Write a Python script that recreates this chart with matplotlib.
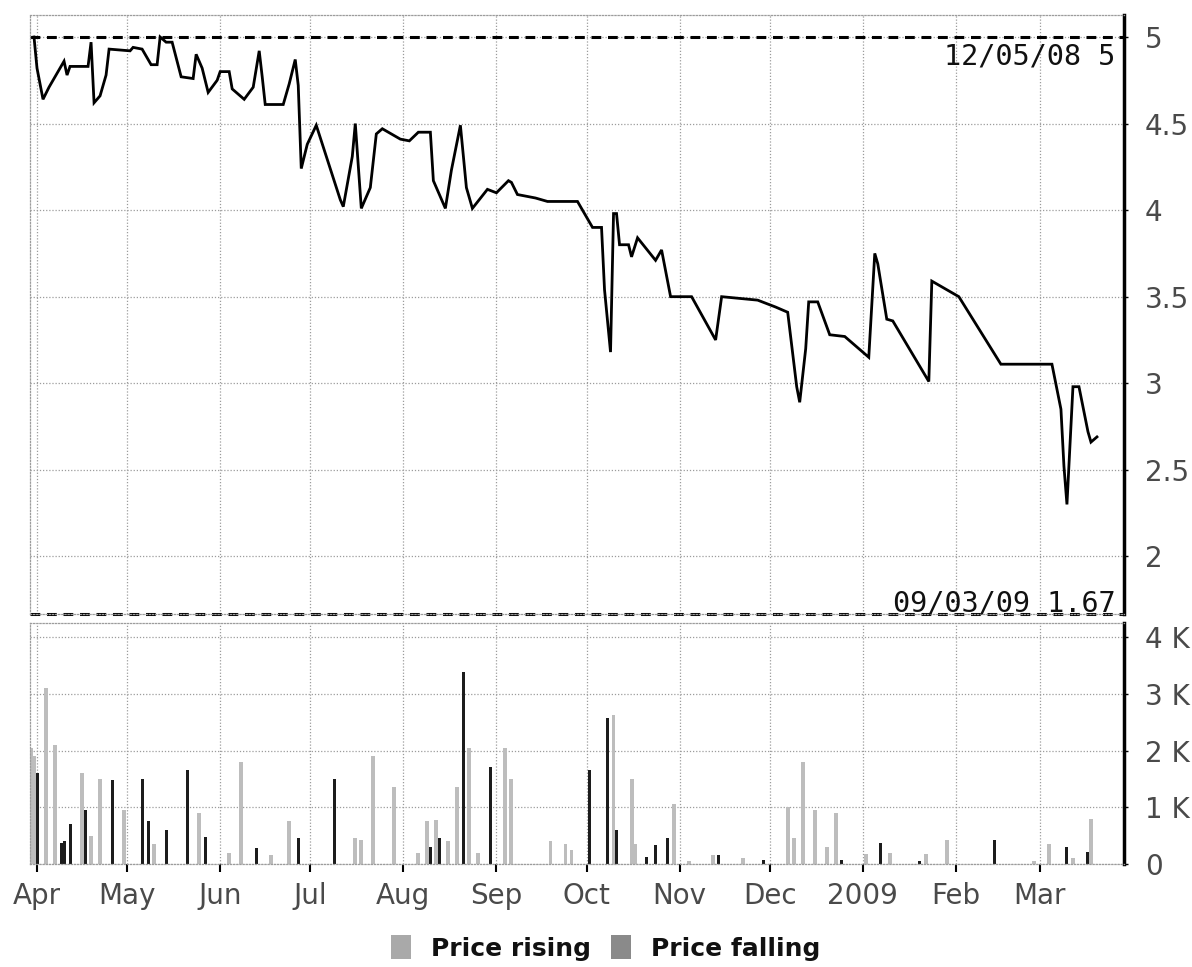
import matplotlib
matplotlib.use("Agg")
import matplotlib.pyplot as plt
from matplotlib.patches import Patch
from matplotlib.ticker import FuncFormatter
import pandas as pd

# closing price
price_dates = ["2008-03-31", "2008-04-01", "2008-04-03", "2008-04-05", "2008-04-10",
               "2008-04-11", "2008-04-12", "2008-04-18", "2008-04-19", "2008-04-20",
               "2008-04-22", "2008-04-24", "2008-04-25", "2008-05-02", "2008-05-03",
               "2008-05-06", "2008-05-09", "2008-05-11", "2008-05-12", "2008-05-14",
               "2008-05-16", "2008-05-19", "2008-05-23", "2008-05-24", "2008-05-26",
               "2008-05-28", "2008-05-31", "2008-06-01", "2008-06-04", "2008-06-05",
               "2008-06-09", "2008-06-12", "2008-06-14", "2008-06-15", "2008-06-16",
               "2008-06-22", "2008-06-24", "2008-06-26", "2008-06-27", "2008-06-28",
               "2008-06-30", "2008-07-03", "2008-07-11", "2008-07-12", "2008-07-15",
               "2008-07-16", "2008-07-18", "2008-07-21", "2008-07-23", "2008-07-25",
               "2008-07-31", "2008-08-03", "2008-08-06", "2008-08-10", "2008-08-11",
               "2008-08-15", "2008-08-17", "2008-08-20", "2008-08-22", "2008-08-24",
               "2008-08-29", "2008-09-01", "2008-09-05", "2008-09-06", "2008-09-08",
               "2008-09-14", "2008-09-18", "2008-09-28", "2008-10-03", "2008-10-06",
               "2008-10-07", "2008-10-09", "2008-10-10", "2008-10-11", "2008-10-12",
               "2008-10-15", "2008-10-16", "2008-10-18", "2008-10-24", "2008-10-26",
               "2008-10-29", "2008-11-05", "2008-11-13", "2008-11-15", "2008-11-27",
               "2008-12-03", "2008-12-07", "2008-12-10", "2008-12-11", "2008-12-13",
               "2008-12-14", "2008-12-17", "2008-12-21", "2008-12-26", "2009-01-03",
               "2009-01-05", "2009-01-06", "2009-01-09", "2009-01-11", "2009-01-23",
               "2009-01-24", "2009-02-02", "2009-02-16", "2009-03-05", "2009-03-08",
               "2009-03-09", "2009-03-10", "2009-03-12", "2009-03-14", "2009-03-17",
               "2009-03-18", "2009-03-20"]
price_values = [5.00, 4.82, 4.64, 4.71, 4.86,
                4.78, 4.83, 4.83, 4.97, 4.62,
                4.66, 4.78, 4.93, 4.92, 4.94,
                4.93, 4.84, 4.84, 5.00, 4.97,
                4.97, 4.77, 4.76, 4.90, 4.82,
                4.68, 4.75, 4.80, 4.80, 4.70,
                4.64, 4.71, 4.92, 4.77, 4.61,
                4.61, 4.73, 4.87, 4.72, 4.24,
                4.38, 4.49, 4.06, 4.02, 4.31,
                4.50, 4.01, 4.13, 4.44, 4.47,
                4.41, 4.40, 4.45, 4.45, 4.17,
                4.01, 4.23, 4.49, 4.13, 4.01,
                4.12, 4.10, 4.17, 4.16, 4.09,
                4.07, 4.05, 4.05, 3.90, 3.90,
                3.54, 3.18, 3.98, 3.98, 3.80,
                3.80, 3.73, 3.84, 3.71, 3.77,
                3.50, 3.50, 3.25, 3.50, 3.48,
                3.44, 3.41, 2.98, 2.89, 3.20,
                3.47, 3.47, 3.28, 3.27, 3.15,
                3.75, 3.69, 3.37, 3.36, 3.01,
                3.59, 3.50, 3.11, 3.11, 2.85,
                2.52, 2.30, 2.98, 2.98, 2.72,
                2.66, 2.69]

# volume on days the price rose / fell
rise_dates = ["2008-03-30", "2008-03-31", "2008-04-04", "2008-04-07", "2008-04-16",
              "2008-04-19", "2008-04-22", "2008-04-30", "2008-05-10", "2008-05-25",
              "2008-06-04", "2008-06-08", "2008-06-18", "2008-06-24", "2008-07-16",
              "2008-07-18", "2008-07-22", "2008-07-29", "2008-08-06", "2008-08-09",
              "2008-08-12", "2008-08-16", "2008-08-19", "2008-08-23", "2008-08-26",
              "2008-09-04", "2008-09-06", "2008-09-19", "2008-09-24", "2008-09-26",
              "2008-10-10", "2008-10-16", "2008-10-17", "2008-10-30", "2008-11-04",
              "2008-11-12", "2008-11-22", "2008-12-07", "2008-12-09", "2008-12-12",
              "2008-12-16", "2008-12-20", "2008-12-23", "2009-01-02", "2009-01-10",
              "2009-01-22", "2009-01-29", "2009-02-27", "2009-03-04", "2009-03-12",
              "2009-03-18"]
rise_volume = [2050, 1900, 3100, 2100, 1600,
               500, 1500, 950, 350, 900,
               200, 1800, 150, 750, 450,
               420, 1900, 1350, 200, 750,
               780, 400, 1350, 2040, 200,
               2040, 1500, 400, 350, 250,
               2620, 1500, 350, 1050, 50,
               150, 100, 1000, 450, 1800,
               950, 300, 900, 180, 200,
               170, 430, 50, 350, 100,
               800]

fall_dates = ["2008-04-01", "2008-04-09", "2008-04-10", "2008-04-12", "2008-04-17",
              "2008-04-26", "2008-05-06", "2008-05-08", "2008-05-14", "2008-05-21",
              "2008-05-27", "2008-06-13", "2008-06-27", "2008-07-09", "2008-08-10",
              "2008-08-13", "2008-08-21", "2008-08-30", "2008-10-02", "2008-10-08",
              "2008-10-11", "2008-10-21", "2008-10-24", "2008-10-28", "2008-11-14",
              "2008-11-29", "2008-12-25", "2009-01-07", "2009-01-20", "2009-02-14",
              "2009-03-10", "2009-03-17"]
fall_volume = [1600, 370, 400, 700, 950,
               1480, 1500, 750, 600, 1650,
               480, 280, 450, 1500, 300,
               450, 3380, 1710, 1660, 2570,
               600, 120, 330, 450, 150,
               70, 70, 370, 50, 430,
               300, 220]

month_ticks = ["2008-04-01", "2008-05-01", "2008-06-01", "2008-07-01", "2008-08-01",
               "2008-09-01", "2008-10-01", "2008-11-01", "2008-12-01", "2009-01-01",
               "2009-02-01", "2009-03-01"]
month_labels = ["Apr", "May", "Jun", "Jul", "Aug", "Sep", "Oct", "Nov", "Dec",
                "2009", "Feb", "Mar"]

price_ticks = [2, 2.5, 3, 3.5, 4, 4.5, 5]
volume_ticks = [0, 1000, 2000, 3000, 4000]

high_value = 5
high_text = "12/05/08 5"
low_value = 1.67
low_text = "09/03/09 1.67"

GRID = "#9c9c9c"
RISE_BAR = "#bdbdbd"
FALL_BAR = "#1c1c1c"
RISE_SWATCH = "#a9a9a9"
FALL_SWATCH = "#8a8a8a"
TICK_TEXT = "#4a4a4a"

x_start = pd.Timestamp("2008-03-29 12:00")
x_end = pd.Timestamp("2009-03-29 00:00")

fig = plt.figure(figsize=(11.92, 9.67), dpi=100)
W, H = 1192, 967
left = 29.5 / W
width = (1124 - 29.5) / W
ax1 = fig.add_axes([left, 1 - 613.5 / H, width, (613.5 - 15) / H])
ax2 = fig.add_axes([left, 1 - 864 / H, width, (864 - 623) / H])

ticks = pd.to_datetime(month_ticks)

for ax in (ax1, ax2):
    ax.set_xlim(x_start, x_end)
    ax.set_xticks(ticks)
    for side in ("top", "left", "bottom"):
        ax.spines[side].set_color(GRID)
        ax.spines[side].set_linestyle((0, (1, 1.5)))
        ax.spines[side].set_linewidth(0.9)
    ax.spines["right"].set_color("black")
    ax.spines["right"].set_linewidth(2.5)
    ax.yaxis.tick_right()
    ax.tick_params(axis="y", direction="out", length=3, width=1, color="black",
                   pad=12, labelsize=20, labelcolor=TICK_TEXT)
    ax.grid(True, color=GRID, linestyle=(0, (1, 1.5)), linewidth=0.9)
    ax.set_axisbelow(True)

# price panel
ax1.plot(pd.to_datetime(price_dates), price_values, color="black", lw=2.0,
         solid_joinstyle="miter")
ax1.set_ylim(low_value, 5.127)
ax1.set_yticks(price_ticks)
ax1.yaxis.set_major_formatter(FuncFormatter(lambda v, p: f"{v:g}"))
ax1.tick_params(axis="x", length=0, labelbottom=False)

ax1.axhline(high_value, color="black", lw=2.2, dashes=(3.2, 2.2))
ax1.axhline(low_value, color="black", lw=2.2, dashes=(3.2, 2.2), clip_on=False)
ax1.text(0.992, high_value - 0.03, high_text, transform=ax1.get_yaxis_transform(),
         ha="right", va="top", fontsize=20.5, family="DejaVu Sans Mono", color="#111111")
ax1.text(0.992, low_value + 0.01, low_text, transform=ax1.get_yaxis_transform(),
         ha="right", va="baseline", fontsize=20.5, family="DejaVu Sans Mono", color="#111111")

# volume panel
ax2.bar(pd.to_datetime(rise_dates), rise_volume, width=1.3, color=RISE_BAR, linewidth=0)
ax2.bar(pd.to_datetime(fall_dates), fall_volume, width=1.0, color=FALL_BAR, linewidth=0)
ax2.set_ylim(0, 4250)
ax2.set_yticks(volume_ticks)
ax2.yaxis.set_major_formatter(
    FuncFormatter(lambda v, p: "0" if v == 0 else f"{int(v / 1000)} K"))
ax2.set_xticklabels(month_labels)
ax2.tick_params(axis="x", direction="out", length=6, width=1.5, color="black",
                pad=7, labelsize=20, labelcolor=TICK_TEXT)

handles = [Patch(facecolor=RISE_SWATCH, edgecolor="none"),
           Patch(facecolor=FALL_SWATCH, edgecolor="none")]
fig.legend(handles, ["Price rising", "Price falling"], loc="center",
           bbox_to_anchor=(0.508, 1 - 948 / H), ncol=2, frameon=False,
           prop={"size": 18, "weight": "bold"}, handlelength=0.8, handleheight=1.1,
           handletextpad=0.8, columnspacing=0.8, labelcolor="#111111")

fig.savefig("out.png", dpi=100)
